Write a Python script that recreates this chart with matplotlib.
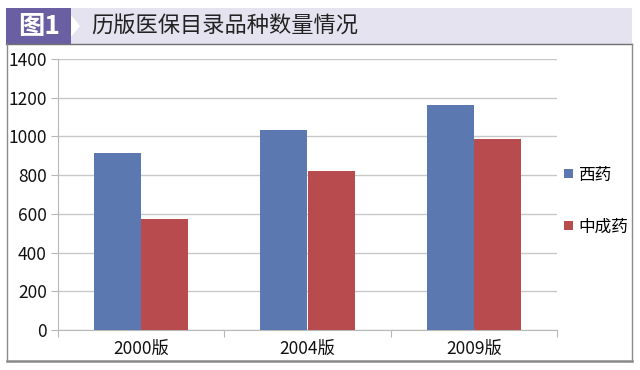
import matplotlib
matplotlib.use("Agg")
import numpy as np
import matplotlib.pyplot as plt
from matplotlib.patches import Rectangle, Polygon
from matplotlib.lines import Line2D

plt.rcParams['font.family'] = ['Noto Sans CJK SC', 'DejaVu Sans']

# data
categories = ['2000版', '2004版', '2009版']
western = [913, 1031, 1164]
chinese = [575, 823, 987]
series_names = ['西药', '中成药']
title = '历版医保目录品种数量情况'
badge = '图1'

W, H = 640, 370
fig = plt.figure(figsize=(6.4, 3.7), dpi=100)


def fx(px):
    return px / W


def fy(py):
    return 1 - py / H


# header band
fig.patches.append(Rectangle((fx(6), fy(44)), fx(626), 36 / H, transform=fig.transFigure,
                             facecolor='#e4e3ef', edgecolor='none'))
fig.patches.append(Rectangle((fx(6), fy(44)), fx(65), 36 / H, transform=fig.transFigure,
                             facecolor='#6b5fa3', edgecolor='none'))
fig.patches.append(Polygon([(fx(71), fy(15)), (fx(80), fy(26)), (fx(71), fy(37))],
                           closed=True, transform=fig.transFigure,
                           facecolor='white', edgecolor='none'))
fig.text(fx(39), fy(26), badge, color='white', fontsize=19, fontweight='bold',
         ha='center', va='center')
fig.text(fx(91), fy(26), title, color='#222222', fontsize=16, ha='left', va='center')

# frame
frame_col = '#8a8a8a'
fig.lines.append(Line2D([fx(6), fx(632)], [fy(44), fy(44)], transform=fig.transFigure,
                        color='#707070', lw=1.0))
fig.lines.append(Line2D([fx(7), fx(7)], [fy(44), fy(361)], transform=fig.transFigure,
                        color=frame_col, lw=1.0))
fig.lines.append(Line2D([fx(632), fx(632)], [fy(44), fy(361)], transform=fig.transFigure,
                        color=frame_col, lw=1.0))
fig.lines.append(Line2D([fx(7), fx(632)], [fy(361), fy(361)], transform=fig.transFigure,
                        color=frame_col, lw=1.8))

# plot area
ax = fig.add_axes([fx(58), fy(330), fx(557 - 58), (330 - 59) / H])
x = np.arange(len(categories))
w = 0.283
ax.bar(x - w / 2, western, w, color='#5b79b0', label=series_names[0], zorder=3)
ax.bar(x + w / 2, chinese, w, color='#b84b4e', label=series_names[1], zorder=3)

ax.set_xlim(-0.5, len(categories) - 0.5)
ax.set_ylim(0, 1400)
ax.set_yticks(np.arange(0, 1401, 200))
ax.yaxis.grid(True, color='#c8c8c8', lw=1.0, zorder=0)

ax.set_xticks(np.arange(len(categories) + 1) - 0.5)
ax.set_xticklabels([])
ax.set_xticks(x, minor=True)
ax.set_xticklabels(categories, minor=True)
ax.tick_params(axis='x', which='minor', length=0, pad=7, labelsize=12.5, colors='#111111')
ax.tick_params(axis='x', which='major', length=5, color='#b8b8b8')
ax.tick_params(axis='y', length=5, color='#b8b8b8', pad=3, labelsize=12.5, labelcolor='#111111')

for s in ['top', 'right']:
    ax.spines[s].set_visible(False)
ax.spines['left'].set_color('#b8b8b8')
ax.spines['bottom'].set_color('#b8b8b8')

fig.legend(loc='center left', bbox_to_anchor=(fx(556), fy(201)), frameon=False,
           fontsize=12, handlelength=0.5, handleheight=0.5, handletextpad=0.35,
           labelspacing=2.1, borderpad=0)

fig.savefig('out.png', dpi=100)
